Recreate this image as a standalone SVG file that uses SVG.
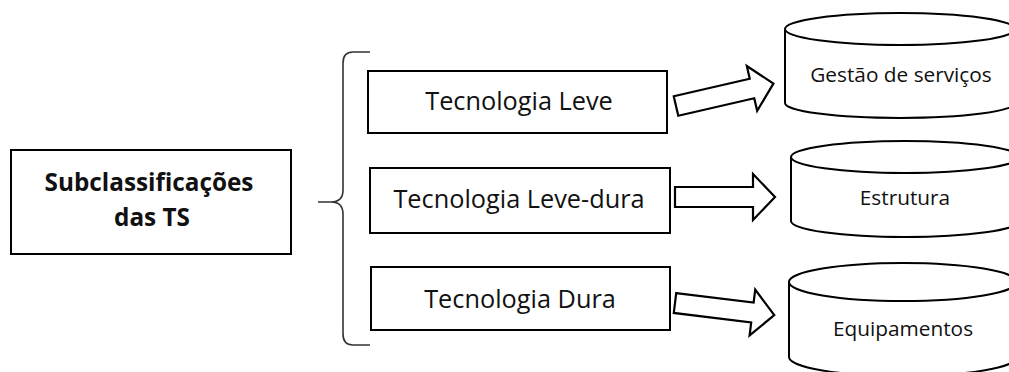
<svg xmlns="http://www.w3.org/2000/svg" width="1009" height="372" viewBox="0 0 1009 372">
  <style>
    .box { fill: #ffffff; stroke: #000000; stroke-width: 2; }
    .cyl { fill: #ffffff; stroke: #000000; stroke-width: 2; }
    .arrow { fill: #ffffff; stroke: #000000; stroke-width: 2.2; stroke-linejoin: miter; }
    .brace { fill: none; stroke: #333333; stroke-width: 1.6; }
    .lbl { font-family: "Open Sans", "Noto Sans", sans-serif; fill: #111111; text-anchor: middle; }
    .main { font-size: 24.3px; font-weight: bold; }
    .tech { font-size: 25.3px; }
    .res { font-size: 20.8px; }
  </style>
  <defs>
    <!-- block arrow, tail centre at origin, pointing along +x -->
    <path id="blockArrow" d="M0,-10 L78,-10 L78,-23 L100,0 L78,23 L78,10 L0,10 Z"/>
  </defs>

  <rect width="1009" height="372" fill="#ffffff"/>

  <g id="root">
    <rect class="box" x="11" y="150" width="280" height="104"/>
    <text class="lbl main" x="149" y="191">Subclassificações</text>
    <text class="lbl main" x="152" y="226">das TS</text>
  </g>

  <g id="connectors">
    <path class="brace" d="M370,52 L353,52 Q343,52 343,63 L343,190 Q343,202 331,202 L318,202 M331,202 Q343,202 343,214 L343,334 Q343,345 353,345 L370,345"/>
    <use href="#blockArrow" class="arrow" transform="translate(676,106) rotate(-13)"/>
    <use href="#blockArrow" class="arrow" transform="translate(675,197)"/>
    <use href="#blockArrow" class="arrow" transform="translate(675,303) rotate(7)"/>
  </g>

  <g id="tech-leve">
    <rect class="box" x="368" y="71" width="299" height="62"/>
    <text class="lbl tech" x="519" y="110">Tecnologia Leve</text>
  </g>
  <g id="tech-leve-dura">
    <rect class="box" x="370" y="168" width="300" height="65"/>
    <text class="lbl tech" x="519" y="208">Tecnologia Leve-dura</text>
  </g>
  <g id="tech-dura">
    <rect class="box" x="371" y="267" width="299" height="63"/>
    <text class="lbl tech" x="520" y="308">Tecnologia Dura</text>
  </g>

  <g id="gestao-servicos">
    <path class="cyl" d="M785,29 L785,103 A115,15 0 0 0 1015,103 L1015,29"/>
    <ellipse class="cyl" cx="900" cy="29" rx="115" ry="16"/>
    <text class="lbl res" x="901" y="82">Gestão de serviços</text>
  </g>
  <g id="estrutura">
    <path class="cyl" d="M791,157 L791,221 A114,16 0 0 0 1019,221 L1019,157"/>
    <ellipse class="cyl" cx="905" cy="157" rx="114" ry="16"/>
    <text class="lbl res" x="905" y="205">Estrutura</text>
  </g>
  <g id="equipamentos">
    <path class="cyl" d="M789,282 L789,357 A114,19 0 0 0 1017,357 L1017,282"/>
    <ellipse class="cyl" cx="903" cy="282" rx="114" ry="19"/>
    <text class="lbl res" x="903" y="336">Equipamentos</text>
  </g>
</svg>
